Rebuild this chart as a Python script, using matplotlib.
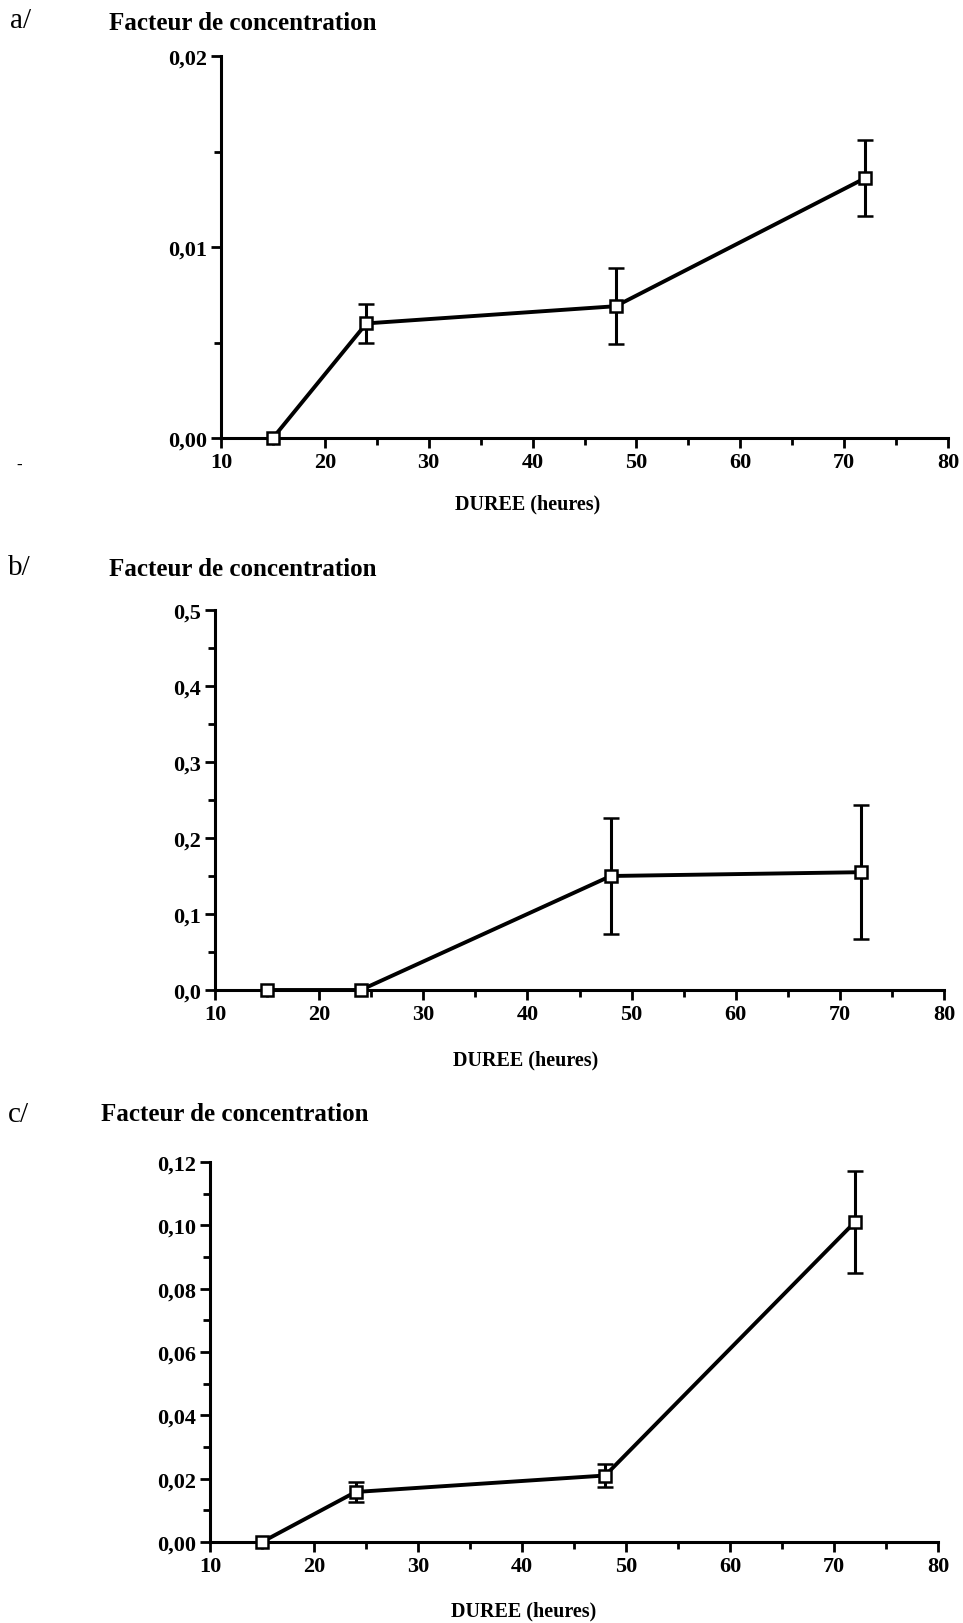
import matplotlib
matplotlib.use("Agg")
import matplotlib.pyplot as plt
from matplotlib.ticker import MultipleLocator, FuncFormatter

# ---- data ----
hours = [15, 24, 48, 72]

a_vals = [0.0, 0.0060, 0.0069, 0.0136]
a_err = [0.0, 0.0010, 0.0020, 0.0020]

b_vals = [0.0, 0.0, 0.150, 0.155]
b_err = [0.0, 0.0, 0.076, 0.088]

c_vals = [0.0, 0.0158, 0.0210, 0.1010]
c_err = [0.0, 0.0032, 0.0036, 0.0161]

panel_letters = ["a/", "b/", "c/"]
ylabel_text = "Facteur de concentration"
xlabel_text = "DUREE (heures)"

y_limits = [(0, 0.02), (0, 0.5), (0, 0.12)]
y_major = [0.01, 0.1, 0.02]
y_minor = [0.005, 0.05, 0.01]
y_decimals = [2, 1, 2]

plt.rcParams['font.family'] = ['Liberation Serif', 'DejaVu Serif']
plt.rcParams['font.weight'] = 'bold'

W, H = 963, 1624
fig = plt.figure(figsize=(W / 100, H / 100), dpi=100)

# axes boxes in pixels: left, right, top, bottom
boxes = [(221, 948, 57, 439), (215, 944, 611, 991), (210, 938, 1163, 1543)]
letter_pos = [(10, 21), (8, 568), (8, 1115)]
title_pos = [(109, 23), (109, 570), (101, 1115)]
xlabel_pos = [(528, 504), (526, 1060), (524, 1611)]

series = [(a_vals, a_err), (b_vals, b_err), (c_vals, c_err)]

for i in range(3):
    l, r, t, b = boxes[i]
    ax = fig.add_axes([l / W, 1 - b / H, (r - l) / W, (b - t) / H])
    vals, err = series[i]
    ax.errorbar(hours, vals, yerr=err, color='black', lw=2.8, elinewidth=2.2,
                capsize=5.5, capthick=2.6, marker='s', markersize=8,
                markerfacecolor='white', markeredgecolor='black',
                markeredgewidth=1.8, zorder=3, clip_on=False)
    ax.set_xlim(10, 80)
    ax.set_ylim(*y_limits[i])
    ax.xaxis.set_major_locator(MultipleLocator(10))
    ax.xaxis.set_minor_locator(MultipleLocator(5))
    ax.yaxis.set_major_locator(MultipleLocator(y_major[i]))
    ax.yaxis.set_minor_locator(MultipleLocator(y_minor[i]))
    d = y_decimals[i]
    ax.yaxis.set_major_formatter(FuncFormatter(
        lambda v, p, d=d: f"{v:.{d}f}".replace('.', ',')))
    ax.xaxis.set_major_formatter(FuncFormatter(lambda v, p: f"{v:.0f}"))
    for s in ['top', 'right']:
        ax.spines[s].set_visible(False)
    for s in ['left', 'bottom']:
        ax.spines[s].set_linewidth(2.2)
    ax.tick_params(axis='both', which='major', direction='out', length=7,
                   width=2, labelsize=16, pad=3)
    ax.tick_params(axis='both', which='minor', direction='out', length=5,
                   width=2)
    for lab in ax.get_xticklabels() + ax.get_yticklabels():
        lab.set_fontweight('bold')
    ax.patch.set_visible(False)

    lx, ly = letter_pos[i]
    fig.text(lx / W, 1 - ly / H, panel_letters[i], fontsize=21,
             fontweight='normal', ha='left', va='center')
    tx, ty = title_pos[i]
    fig.text(tx / W, 1 - ty / H, ylabel_text, fontsize=18,
             fontweight='bold', ha='left', va='center')
    xx, xy = xlabel_pos[i]
    fig.text(xx / W, 1 - xy / H, xlabel_text, fontsize=14.5,
             fontweight='bold', ha='center', va='center')

fig.text(16 / W, 1 - 466 / H, "-", fontsize=12, ha='left', va='center')

fig.savefig("out.png", dpi=100, facecolor='white')
